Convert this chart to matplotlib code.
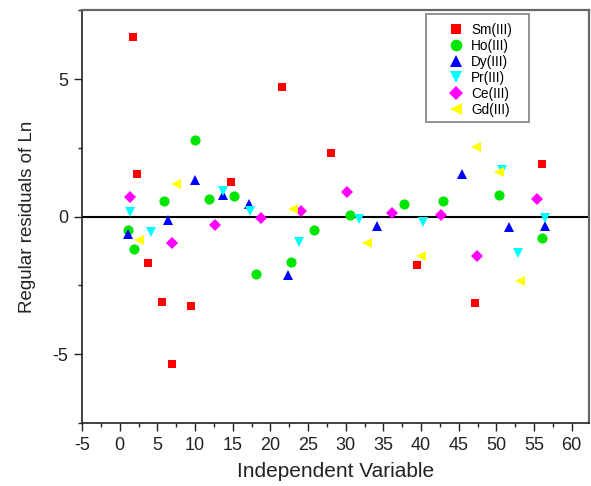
import matplotlib
matplotlib.use("Agg")
import matplotlib.pyplot as plt
from matplotlib.patches import Rectangle
from matplotlib.ticker import MultipleLocator

plt.rcParams['font.family'] = ['Liberation Sans', 'DejaVu Sans']

# ---- data ----
sm_x = [1.8, 2.3, 3.8, 5.6, 7.0, 9.5, 14.8, 21.6, 28.1, 39.5, 47.2, 56.1]
sm_y = [6.52, 1.55, -1.70, -3.09, -5.36, -3.23, 1.27, 4.72, 2.30, -1.76, -3.14, 1.91]

ho_x = [1.13, 1.93, 5.82, 10.0, 11.82, 15.13, 18.09, 22.77, 25.77, 30.63, 37.69, 42.95, 50.36, 56.1]
ho_y = [-0.49, -1.19, 0.57, 2.80, 0.63, 0.77, -2.09, -1.64, -0.49, 0.06, 0.45, 0.56, 0.79, -0.79]

dy_x = [1.13, 6.43, 10.06, 13.72, 17.16, 22.38, 34.16, 45.5, 51.69, 56.46]
dy_y = [-0.64, -0.13, 1.33, 0.79, 0.45, -2.13, -0.34, 1.55, -0.36, -0.33]

pr_x = [1.36, 4.1, 13.72, 17.34, 23.87, 31.73, 40.3, 50.8, 52.92, 56.46]
pr_y = [0.16, -0.55, 0.94, 0.21, -0.91, -0.10, -0.18, 1.70, -1.31, -0.06]

ce_x = [1.36, 7.01, 12.62, 18.75, 24.1, 30.19, 36.15, 42.72, 47.41, 55.36]
ce_y = [0.71, -0.97, -0.31, -0.04, 0.22, 0.90, 0.12, 0.06, -1.43, 0.65]

gd_x = [2.55, 7.54, 22.99, 32.79, 39.99, 47.28, 50.36, 53.15]
gd_y = [-0.83, 1.18, 0.27, -0.95, -1.43, 2.52, 1.62, -2.35]

labels = ["Sm(III)", "Ho(III)", "Dy(III)", "Pr(III)", "Ce(III)", "Gd(III)"]
x_ticks = list(range(-5, 61, 5))
y_ticks = [-5, 0, 5]

series = [
    (sm_x, sm_y, 's', '#ff0000', 6.3),
    (ho_x, ho_y, 'o', '#00e600', 7.3),
    (dy_x, dy_y, '^', '#0000ff', 7.8),
    (pr_x, pr_y, 'v', '#00ffff', 7.8),
    (ce_x, ce_y, 'D', '#ff00ff', 6.0),
    (gd_x, gd_y, '<', '#ffff00', 7.8),
]

W, H = 591, 486
fig = plt.figure(figsize=(W / 100, H / 100), dpi=100)
L, R, T, B = 82, 589, 10.5, 423
ax = fig.add_axes([L / W, 1 - B / H, (R - L) / W, (B - T) / H])

handles = []
for (xs, ys, m, c, ms), lab in zip(series, labels):
    h, = ax.plot(xs, ys, linestyle='none', marker=m, color=c, markersize=ms,
                 markeredgewidth=0, label=lab, zorder=3)
    handles.append(h)

ax.axhline(0, color='black', linewidth=1.5, zorder=2)

ax.set_xlim(-5, 62.3)
ax.set_ylim(-7.5, 7.5)
ax.set_xticks(x_ticks)
ax.set_xticklabels([str(t) for t in x_ticks])
ax.set_yticks(y_ticks)
ax.set_yticklabels([str(t) for t in y_ticks])
ax.xaxis.set_minor_locator(MultipleLocator(2.5))
ax.yaxis.set_minor_locator(MultipleLocator(2.5))
ax.tick_params(which='major', direction='out', length=6, width=1.0,
               labelsize=13, colors='#222222', pad=4,
               top=False, right=False)
ax.tick_params(which='minor', direction='out', length=3, width=1.0,
               top=False, right=False, colors='#222222')

for s in ['left', 'bottom']:
    ax.spines[s].set_color('#222222')
    ax.spines[s].set_linewidth(1.2)
for s in ['top', 'right']:
    ax.spines[s].set_color('#666666')
    ax.spines[s].set_linewidth(1.6)

ax.set_xlabel('Independent Variable', fontsize=15, color='#222222', labelpad=6)
ax.set_ylabel('Regular residuals of Ln', fontsize=13.5, color='#222222', labelpad=12)

# legend (frameless) + manual frame
leg = fig.legend(handles=handles, labels=labels, loc='upper left',
                 bbox_to_anchor=(448 / W, 1 - 23 / H),
                 frameon=False, fontsize=9.8, borderpad=0, borderaxespad=0,
                 handlelength=1.2, handletextpad=0.5, labelspacing=0.15,
                 markerscale=1.15)
fig.patches.append(Rectangle((426 / W, 1 - 122 / H), (529 - 426) / W, (122 - 14) / H,
                             transform=fig.transFigure, fill=False,
                             edgecolor='#888888', linewidth=1.3, zorder=5))

fig.savefig('out.png', dpi=100)
